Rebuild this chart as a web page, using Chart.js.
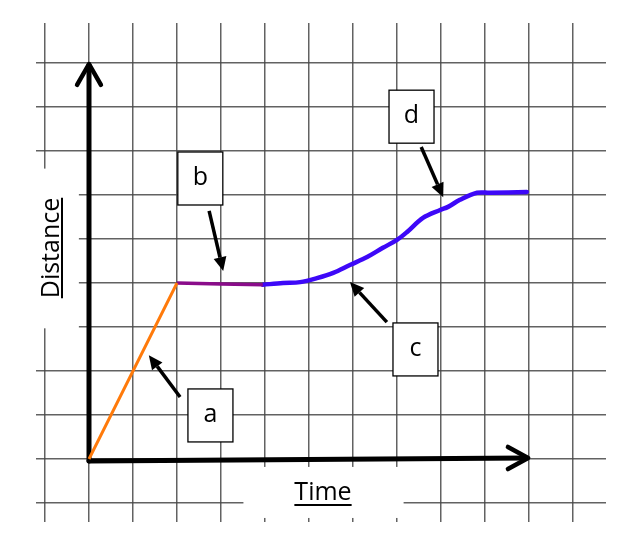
<!DOCTYPE html>
<html>
<head>
<meta charset="utf-8">
<script src="https://cdn.jsdelivr.net/npm/chart.js@4/dist/chart.umd.min.js"></script>
<style>
  html, body { margin: 0; padding: 0; background: #ffffff; }
  #wrap { width: 633px; height: 535px; }
</style>
</head>
<body>
<div id="wrap"><canvas id="chart" width="633" height="535"></canvas></div>
<script>
// Grid ticks (one square = one unit)
const xTicks = [-1, 0, 1, 2, 3, 4, 5, 6, 7, 8, 9, 10, 11];
const yTicks = [-1, 0, 1, 2, 3, 4, 5, 6, 7, 8, 9];

// Stage a: steady motion away
const stageAX = [0, 2];
const stageAY = [0, 4];

// Stage b: standing still
const stageBX = [2, 3, 3.95];
const stageBY = [4, 3.98, 3.96];

// Stages c and d: speeding up, then slowing to a stop
const stageCX = [3.95, 4.41, 4.80, 5.18, 5.55, 5.93, 6.32, 6.68, 7.00, 7.23, 7.59, 7.98, 8.16, 8.43, 8.82, 9.11, 9.95];
const stageCY = [3.96, 4.00, 4.02, 4.11, 4.23, 4.41, 4.59, 4.80, 4.98, 5.16, 5.48, 5.66, 5.73, 5.89, 6.05, 6.05, 6.07];

const stageLabels = ['a', 'b', 'c', 'd'];
const axisTitleX = 'Time';
const axisTitleY = 'Distance';

const pts = (xs, ys) => xs.map((x, i) => ({ x, y: ys[i] }));

const FONT = '"Open Sans", "DejaVu Sans", sans-serif';

// Callout boxes and pointer arrows, placed in data units
const callouts = [
  { text: stageLabels[0], box: [2.76, 0.99], tail: [2.07, 1.41], tip: [1.36, 2.36] },
  { text: stageLabels[1], box: [2.53, 6.375], tail: [2.73, 5.64], tip: [3.05, 4.27] },
  { text: stageLabels[2], box: [7.42, 2.49], tail: [6.77, 3.11], tip: [5.93, 4.02] },
  { text: stageLabels[3], box: [7.33, 7.78], tail: [7.55, 7.09], tip: [8.05, 5.95] }
];

function arrowLine(ctx, x1, y1, x2, y2, width, headLen, headHalf) {
  const a = Math.atan2(y2 - y1, x2 - x1);
  const bx = x2 - headLen * Math.cos(a), by = y2 - headLen * Math.sin(a);
  ctx.save();
  ctx.strokeStyle = '#000';
  ctx.fillStyle = '#000';
  ctx.lineWidth = width;
  ctx.lineCap = 'butt';
  ctx.beginPath();
  ctx.moveTo(x1, y1);
  ctx.lineTo(bx, by);
  ctx.stroke();
  ctx.beginPath();
  ctx.moveTo(x2, y2);
  ctx.lineTo(bx + headHalf * Math.sin(a), by - headHalf * Math.cos(a));
  ctx.lineTo(bx - headHalf * Math.sin(a), by + headHalf * Math.cos(a));
  ctx.closePath();
  ctx.fill();
  ctx.restore();
}

function chevron(ctx, tipX, tipY, ang, len, spread) {
  ctx.beginPath();
  ctx.moveTo(tipX + len * Math.cos(ang + spread), tipY + len * Math.sin(ang + spread));
  ctx.lineTo(tipX, tipY);
  ctx.lineTo(tipX + len * Math.cos(ang - spread), tipY + len * Math.sin(ang - spread));
  ctx.stroke();
}

const sketchPlugin = {
  id: 'sketch',
  beforeDatasetsDraw(chart) {
    const { ctx, scales: { x, y } } = chart;
    const px = v => x.getPixelForValue(v);
    const py = v => y.getPixelForValue(v);
    ctx.save();
    // white patches behind the axis titles
    ctx.fillStyle = '#ffffff';
    ctx.fillRect(px(-1.21), py(6.6), px(-0.23) - px(-1.21), py(2.97) - py(6.6));
    ctx.fillRect(px(3.51), py(-0.18), px(7.15) - px(3.51), py(-1.34) - py(-0.18));

    // axes with open arrow heads
    const ox = px(0), oy = py(0);
    ctx.strokeStyle = '#000';
    ctx.lineWidth = 5;
    ctx.lineCap = 'round';
    ctx.lineJoin = 'round';
    ctx.beginPath();
    ctx.moveTo(ox, oy + 2);
    ctx.lineTo(px(0), py(9) + 2);
    ctx.stroke();
    ctx.beginPath();
    ctx.moveTo(ox, oy + 2);
    ctx.lineTo(px(9.98) - 2, py(0) - 1);
    ctx.stroke();
    ctx.lineWidth = 4.5;
    chevron(ctx, px(0), py(9) + 1, Math.PI / 2, 24, 0.52);
    chevron(ctx, px(9.98), py(0) - 1, Math.PI, 23, 0.5);
    ctx.restore();
  },
  afterDraw(chart) {
    const { ctx, scales: { x, y } } = chart;
    const px = v => x.getPixelForValue(v);
    const py = v => y.getPixelForValue(v);
    ctx.save();

    // callouts
    callouts.forEach(c => {
      const cx = px(c.box[0]), cy = py(c.box[1]);
      const w = 45, h = 53;
      ctx.fillStyle = '#fff';
      ctx.fillRect(cx - w / 2, cy - h / 2, w, h);
      ctx.strokeStyle = '#000';
      ctx.lineWidth = 1.3;
      ctx.strokeRect(cx - w / 2, cy - h / 2, w, h);
      ctx.fillStyle = '#000';
      ctx.font = '25px ' + FONT;
      ctx.textAlign = 'center';
      ctx.textBaseline = 'middle';
      ctx.fillText(c.text, cx, cy - 1);
      arrowLine(ctx, px(c.tail[0]), py(c.tail[1]), px(c.tip[0]), py(c.tip[1]), 3.5, 14, 6.5);
    });

    // axis titles, underlined
    ctx.fillStyle = '#000';
    ctx.strokeStyle = '#000';
    ctx.font = '25px ' + FONT;
    ctx.textAlign = 'left';
    ctx.textBaseline = 'alphabetic';
    const tw = ctx.measureText(axisTitleX).width;
    const tx = 323 - tw / 2, ty = 500;
    ctx.fillText(axisTitleX, tx, ty);
    ctx.lineWidth = 2;
    ctx.beginPath();
    ctx.moveTo(tx, ty + 5);
    ctx.lineTo(tx + tw, ty + 5);
    ctx.stroke();

    ctx.save();
    ctx.translate(59, 248);
    ctx.rotate(-Math.PI / 2);
    const dw = ctx.measureText(axisTitleY).width;
    ctx.textAlign = 'center';
    ctx.fillText(axisTitleY, 0, 0);
    ctx.beginPath();
    ctx.moveTo(-dw / 2, 3);
    ctx.lineTo(dw / 2, 3);
    ctx.stroke();
    ctx.restore();

    ctx.restore();
  }
};

const gridStyle = {
  color: 'rgba(70,70,70,0.85)',
  lineWidth: 1.5,
  drawTicks: false
};

new Chart(document.getElementById('chart'), {
  type: 'line',
  data: {
    datasets: [
      {
        data: pts(stageAX, stageAY),
        borderColor: '#ff7a0a',
        borderWidth: 3,
        pointRadius: 0,
        tension: 0
      },
      {
        data: pts(stageBX, stageBY),
        borderColor: '#8a0c8a',
        borderWidth: 3.5,
        pointRadius: 0,
        tension: 0
      },
      {
        data: pts(stageCX, stageCY),
        borderColor: '#3d08f8',
        borderWidth: 4.5,
        borderCapStyle: 'round',
        borderJoinStyle: 'round',
        pointRadius: 0,
        tension: 0.35
      }
    ]
  },
  options: {
    responsive: false,
    animation: false,
    events: [],
    layout: { padding: { left: 36, right: 27, top: 23, bottom: 13 } },
    plugins: {
      legend: { display: false },
      tooltip: { enabled: false },
      title: { display: false }
    },
    scales: {
      x: {
        type: 'linear',
        min: -1.2045,
        max: 11.75,
        afterBuildTicks: s => { s.ticks = xTicks.map(v => ({ value: v })); },
        ticks: { display: false },
        grid: gridStyle,
        border: { display: false }
      },
      y: {
        type: 'linear',
        min: -1.4318,
        max: 9.909,
        afterBuildTicks: s => { s.ticks = yTicks.map(v => ({ value: v })); },
        ticks: { display: false },
        grid: gridStyle,
        border: { display: false }
      }
    }
  },
  plugins: [sketchPlugin]
});
</script>
</body>
</html>
